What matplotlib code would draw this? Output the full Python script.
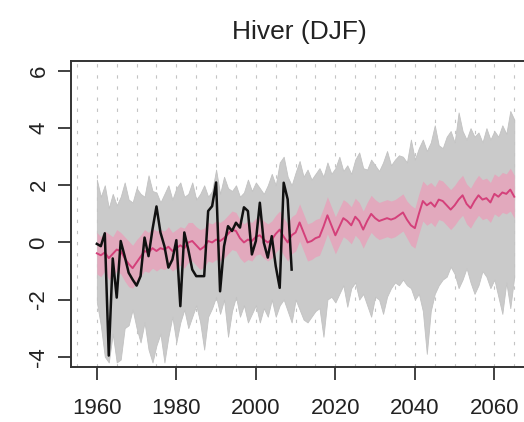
import matplotlib
matplotlib.use("Agg")
import matplotlib.pyplot as plt
import numpy as np

plt.rcParams["font.family"] = ["Liberation Sans", "DejaVu Sans"]
plt.rcParams["axes.unicode_minus"] = False

# model years and observation years
model_years = np.arange(1960, 2066)
obs_years = np.arange(1960, 2010)

# ensemble envelope (grey)
grey_upper = [
    2.2, 1.6, 2.0, 1.2, 1.7, 1.3, 1.6, 2.1, 1.5, 1.4,
    1.9, 1.7, 1.6, 2.35, 1.8, 1.75, 1.4, 1.7, 2.0, 1.5,
    1.9, 2.1, 1.6, 1.7, 2.1, 1.5, 1.7, 2.0, 1.6, 1.8,
    2.55, 1.7, 2.3, 1.9, 1.8, 2.0, 1.6, 1.75, 2.2, 1.8,
    2.1, 1.9, 1.7, 2.0, 2.4, 2.0, 2.8, 3.0, 2.3, 2.0,
    2.45, 2.85, 2.3, 2.55, 2.2, 2.4, 2.6, 2.3, 2.8, 2.4,
    2.6, 3.0, 2.5, 2.7, 2.4, 2.9, 3.15, 2.6, 2.55, 2.9,
    2.7, 2.5, 2.8, 3.2, 2.7, 2.9, 3.05, 3.0, 2.8, 3.6,
    2.9, 3.3, 3.6, 3.2, 3.5, 4.1, 3.4, 3.3, 3.7, 3.9,
    3.5, 4.55, 3.9, 3.6, 4.0, 3.7, 3.85, 3.5, 4.0, 3.6,
    3.9, 3.7, 4.1, 3.8, 4.6, 4.3,
]
grey_lower = [
    -2.1, -2.9, -4.0, -4.2, -3.2, -4.2, -4.1, -3.0, -2.9, -2.35,
    -3.0, -3.5, -2.8, -3.75, -4.2, -3.6, -3.2, -4.2, -3.3, -2.6,
    -3.5, -2.8, -2.35, -3.0, -2.6, -2.2, -2.8, -3.75, -2.6, -2.3,
    -1.9, -2.5, -2.0, -3.3, -2.4, -1.9, -2.6, -2.2, -2.8, -2.5,
    -2.2, -2.8, -2.3, -2.6, -2.0, -2.6, -2.2, -2.0, -2.4, -2.8,
    -2.0, -2.35, -2.7, -2.8, -2.6, -2.4, -2.3, -3.3, -2.0, -1.9,
    -2.1, -1.8, -1.5, -2.25, -1.6, -1.4, -2.0, -1.8, -2.2, -2.6,
    -1.9, -2.0, -2.5, -1.9, -1.6, -1.4, -1.5, -1.3, -1.5, -1.6,
    -2.0, -1.8, -2.4, -3.9, -2.4, -1.8, -1.5, -1.3, -1.2, -0.85,
    -1.1, -1.6, -1.3, -0.9, -1.4, -1.8, -1.5, -1.0, -1.2, -1.6,
    -1.3, -1.9, -2.5, -1.4, -2.3, -1.2,
]

# ensemble mean and its band (pink)
pink_mean = [
    -0.38, -0.45, -0.35, -0.55, -0.40, -0.25, -0.30, -0.55, -0.75, -0.90,
    -0.70, -0.50, -0.30, -0.35, -0.20, -0.30, -0.20, -0.25, -0.15, -0.30,
    -0.20, -0.10, -0.20, 0.00, 0.05, -0.10, -0.25, -0.15, 0.05, 0.00,
    0.10, 0.05, 0.15, 0.30, 0.45, 0.40, 0.15, 0.00, 0.10, 0.05,
    0.20, 0.25, 0.10, 0.00, 0.10, 0.30, 0.45, 0.20, 0.00, 0.25,
    0.35, 0.70, 0.35, 0.00, 0.05, 0.15, 0.20, 0.55, 0.95, 0.60,
    0.25, 0.55, 0.85, 0.75, 0.60, 0.90, 0.75, 0.45, 0.75, 1.00,
    0.85, 0.75, 0.80, 0.85, 0.80, 0.85, 0.95, 1.05, 0.80, 0.60,
    0.50, 1.00, 1.45, 1.30, 1.40, 1.25, 1.50, 1.45, 1.30, 1.15,
    1.30, 1.50, 1.65, 1.35, 1.20, 1.45, 1.65, 1.50, 1.55, 1.40,
    1.70, 1.60, 1.75, 1.70, 1.85, 1.60,
]
pink_upper = [
    0.35, 0.2, 0.4, 0.3, 0.2, 0.45, 0.35, 0.2, 0.05, -0.1,
    0.1, 0.25, 0.45, 0.35, 0.5, 0.4, 0.45, 0.4, 0.55, 0.35,
    0.45, 0.55, 0.5, 0.7, 0.7, 0.55, 0.45, 0.5, 0.7, 0.65,
    0.75, 0.7, 0.8, 0.95, 1.1, 1.05, 0.8, 0.65, 0.75, 0.7,
    0.85, 0.9, 0.75, 0.65, 0.75, 0.95, 1.1, 0.85, 0.65, 0.9,
    1.0, 1.35, 1.0, 0.65, 0.7, 0.8, 0.85, 1.2, 1.6, 1.25,
    0.9, 1.2, 1.5, 1.4, 1.25, 1.55, 1.4, 1.1, 1.4, 1.65,
    1.5, 1.4, 1.45, 1.5, 1.45, 1.5, 1.6, 1.7, 1.45, 1.3,
    1.2, 1.7, 2.15, 2.0, 2.1, 1.95, 2.2, 2.15, 2.0, 1.85,
    2.0, 2.2, 2.35, 2.05, 1.9, 2.15, 2.35, 2.2, 2.25, 2.1,
    2.4, 2.3, 2.45, 2.4, 2.6, 2.35,
]
pink_lower = [
    -1.1, -1.2, -1.0, -1.3, -1.2, -1.0, -1.1, -1.35, -1.55, -1.6,
    -1.4, -1.2, -1.0, -1.05, -0.9, -1.0, -0.9, -0.95, -0.85, -1.0,
    -0.9, -0.8, -0.9, -0.7, -0.65, -0.8, -0.95, -0.85, -0.65, -0.7,
    -0.6, -0.65, -0.55, -0.4, -0.25, -0.3, -0.55, -0.7, -0.6, -0.65,
    -0.45, -0.4, -0.55, -0.65, -0.55, -0.35, -0.2, -0.45, -0.65, -0.4,
    -0.3, 0.05, -0.3, -0.65, -0.6, -0.5, -0.45, -0.1, 0.3, -0.05,
    -0.4, -0.1, 0.2, 0.1, -0.05, 0.25, 0.1, -0.2, 0.1, 0.35,
    0.2, 0.1, 0.15, 0.2, 0.15, 0.2, 0.3, 0.4, 0.15, -0.1,
    -0.2, 0.3, 0.75, 0.6, 0.7, 0.55, 0.8, 0.75, 0.6, 0.45,
    0.6, 0.8, 0.95, 0.65, 0.5, 0.75, 0.95, 0.8, 0.85, 0.7,
    1.0, 0.9, 1.05, 1.0, 1.1, 0.85,
]

# observations (black)
obs_values = [
    -0.05, -0.13, 0.32, -3.96, -0.56, -1.93, 0.05, -0.48, -1.06, -1.30,
    -1.51, -1.18, 0.17, -0.48, 0.46, 1.26, 0.35, -0.13, -0.88, -0.60,
    0.08, -2.23, 0.35, -0.25, -0.95, -1.18, -1.18, -1.18, 1.10, 1.27,
    2.10, -1.71, -0.13, 0.57, 0.40, 0.69, 0.52, 1.23, 1.10, -0.42,
    0.05, 1.39, -0.01, -0.53, 0.22, -0.83, -1.59, 2.09, 1.51, -0.95,
]

grid_years = np.arange(1955, 2070, 5)
x_ticks = [1960, 1980, 2000, 2020, 2040, 2060]
y_ticks = [-4, -2, 0, 2, 4, 6]

fig = plt.figure(figsize=(5.24, 4.22), dpi=100)
ax = fig.add_axes([0.1355, 0.131, 0.8702, 0.7244])

for gx in grid_years:
    ax.axvline(gx, color="#c4c4c4", lw=0.8, dashes=(3, 7), zorder=0)

ax.fill_between(model_years, grey_lower, grey_upper, color="#cacaca", lw=0.6,
                edgecolor="#c2c2c2", zorder=1)
ax.fill_between(model_years, pink_lower, pink_upper, color="#e2a9bd", lw=0, zorder=2)
ax.plot(model_years, pink_mean, color="#d4407a", lw=1.4, zorder=3)
ax.plot(obs_years, obs_values, color="#111111", lw=1.8, zorder=4)

ax.set_xlim(1953.5, 2068.2)
ax.set_ylim(-4.35, 6.35)
ax.set_xticks(x_ticks)
ax.set_yticks(y_ticks)
ax.set_yticklabels([str(v) for v in y_ticks], rotation=90, va="center")

for spine in ax.spines.values():
    spine.set_linewidth(1.4)
    spine.set_color("#333333")

ax.tick_params(axis="both", direction="out", length=9.5, width=1.3,
               color="#333333", labelsize=16, labelcolor="#222222")
ax.tick_params(axis="x", pad=13)
ax.tick_params(axis="y", pad=6)

ax.set_title("Hiver (DJF)", fontsize=19, color="#222222", pad=16)

fig.savefig("out.png", dpi=100)
